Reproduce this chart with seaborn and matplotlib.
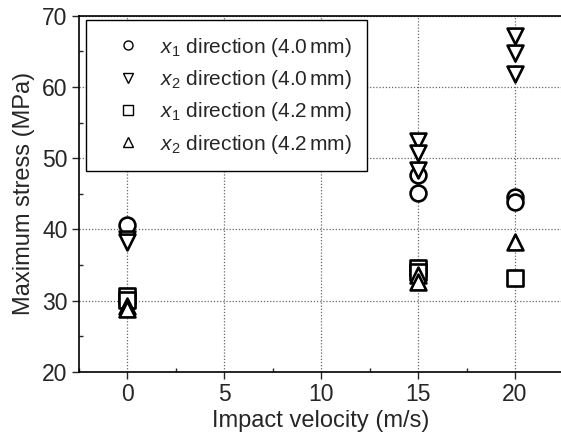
import numpy as np
import pandas as pd
import matplotlib
matplotlib.use("Agg")
import matplotlib.pyplot as plt
from matplotlib.lines import Line2D
from matplotlib.ticker import MultipleLocator
import seaborn as sns

# ---- data ----
x1_40_v = [0, 15, 15, 20, 20]
x1_40_s = [40.6, 47.6, 45.1, 44.6, 43.9]
x2_40_v = [0, 0, 15, 15, 15, 20, 20, 20]
x2_40_s = [38.7, 38.2, 52.4, 50.7, 48.4, 67.2, 64.8, 61.8]
x1_42_v = [0, 0, 15, 15, 20]
x1_42_s = [30.6, 30.1, 34.6, 34.1, 33.2]
x2_42_v = [0, 0, 15, 15, 20]
x2_42_s = [29.3, 28.9, 33.6, 32.6, 38.2]

labels = [r"$x_1$ direction (4.0$\,$mm)", r"$x_2$ direction (4.0$\,$mm)",
          r"$x_1$ direction (4.2$\,$mm)", r"$x_2$ direction (4.2$\,$mm)"]
markers = ["o", "v", "s", "^"]
xticks = [0, 5, 10, 15, 20]
yticks = [20, 30, 40, 50, 60, 70]

sns.set_style("white")
plt.rcParams["font.family"] = ["Liberation Sans", "DejaVu Sans"]
plt.rcParams["mathtext.fontset"] = "custom"
plt.rcParams["mathtext.rm"] = "Liberation Sans"
plt.rcParams["mathtext.it"] = "Liberation Sans:italic"

series = [(x1_40_v, x1_40_s), (x2_40_v, x2_40_s), (x1_42_v, x1_42_s), (x2_42_v, x2_42_s)]
frames = []
for i, (vx, sy) in enumerate(series):
    frames.append(pd.DataFrame({"v": vx, "s": sy, "series": labels[i]}))
df = pd.concat(frames, ignore_index=True)

fig = plt.figure(figsize=(5.61, 4.34), dpi=100)
ax = fig.add_axes([78.7 / 561, 62 / 434, 484.8 / 561, 356.3 / 434])

for i, lab in enumerate(labels):
    sub = df[df["series"] == lab]
    sns.scatterplot(data=sub, x="v", y="s", marker=markers[i], s=130,
                    facecolor="white", edgecolor="black", linewidth=1.9,
                    legend=False, ax=ax, zorder=3 + i)

ax.set_xlim(-2.5, 22.5)
ax.set_ylim(20, 70)
ax.set_xticks(xticks)
ax.set_yticks(yticks)
ax.xaxis.set_minor_locator(MultipleLocator(2.5))
ax.yaxis.set_minor_locator(MultipleLocator(5))
ax.tick_params(which="major", direction="out", length=5, width=1, labelsize=16.5, pad=3)
ax.tick_params(which="minor", direction="in", length=3, width=1)
ax.tick_params(axis="x", which="both", bottom=True)
ax.tick_params(axis="y", which="both", left=True)
ax.grid(True, which="major", linestyle=(0, (1, 1.5)), color="#666666", linewidth=0.9)
for sp in ax.spines.values():
    sp.set_visible(True)
    sp.set_color("black")
    sp.set_linewidth(1.2)

ax.set_xlabel("Impact velocity (m/s)", fontsize=17, labelpad=3)
ax.set_ylabel("Maximum stress (MPa)", fontsize=17, labelpad=5)

handles = [Line2D([], [], linestyle="none", marker=m, markersize=6.5,
                  markerfacecolor="white", markeredgecolor="black", markeredgewidth=1.0)
           for m in markers]
leg = ax.legend(handles, labels, loc="upper left", bbox_to_anchor=(0.015, 0.988),
                borderaxespad=0, fontsize=15, frameon=True, fancybox=False,
                edgecolor="black", framealpha=1, borderpad=0.75, labelspacing=0.45,
                handletextpad=0.3, handlelength=2.5)
leg.get_frame().set_linewidth(1.0)
leg.set_zorder(10)

fig.savefig("out.png", dpi=100)
